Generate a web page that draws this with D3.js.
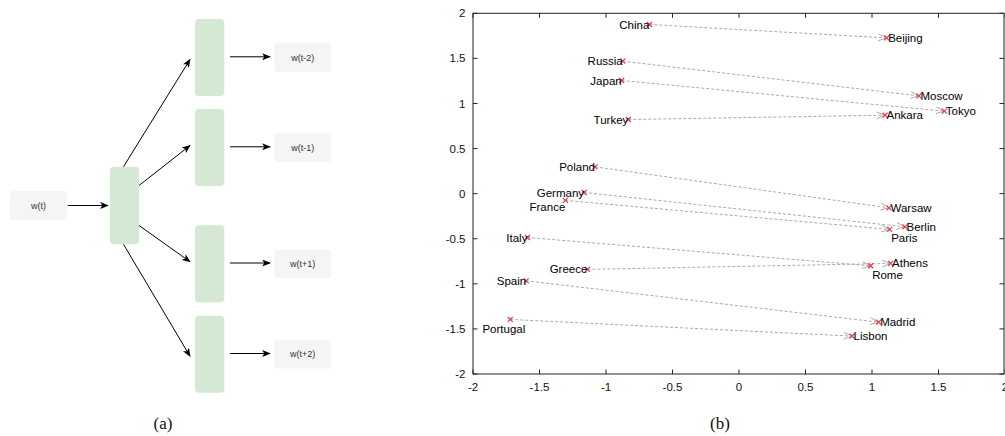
<!DOCTYPE html>
<html>
<head>
<meta charset="utf-8">
<script src="https://cdn.jsdelivr.net/npm/d3@7"></script>
<style>
  body { margin: 0; background: #fff; }
  svg { display: block; }
  .tick-label { font-family: 'Liberation Sans', Arial, sans-serif; font-size: 11.5px; fill: #111; }
  .pt-label { font-family: 'Liberation Sans', Arial, sans-serif; font-size: 11.5px; fill: #000; }
  .node-label { font-family: 'Liberation Sans', Arial, sans-serif; font-size: 9px; fill: #333; }
  .caption { font-family: 'Liberation Serif', 'Times New Roman', serif; font-size: 17px; fill: #111; }
</style>
</head>
<body>
<svg id="chart"></svg>
<script>
// (a) skip-gram diagram
const inputWord = 'w(t)',
contextWords = ['w(t-2)', 'w(t-1)', 'w(t+1)', 'w(t+2)'],
contextOffsets = [-2, -1, 1, 2];

// (b) country -> capital projection
const countries = ['China', 'Russia', 'Japan', 'Turkey', 'Poland', 'Germany', 'France', 'Italy', 'Greece', 'Spain', 'Portugal'],
countryX = [-0.674, -0.874, -0.882, -0.832, -1.083, -1.165, -1.306, -1.591, -1.14, -1.60, -1.72],
countryY = [1.876, 1.469, 1.255, 0.822, 0.297, 0.013, -0.075, -0.486, -0.84, -0.967, -1.395],
capitals = ['Beijing', 'Moscow', 'Tokyo', 'Ankara', 'Warsaw', 'Berlin', 'Paris', 'Rome', 'Athens', 'Madrid', 'Lisbon'],
capitalX = [1.11, 1.353, 1.544, 1.098, 1.128, 1.248, 1.133, 0.99, 1.14, 1.05, 0.85],
capitalY = [1.727, 1.084, 0.915, 0.87, -0.157, -0.368, -0.397, -0.80, -0.774, -1.425, -1.58],
xTicks = [-2, -1.5, -1, -0.5, 0, 0.5, 1, 1.5, 2],
yTicks = [-2, -1.5, -1, -0.5, 0, 0.5, 1, 1.5, 2];

const width = 1005,
height = 436;

// labels that sit below their marker instead of beside it
const labelShift = {France: [0, 6.5], Portugal: [15, 10], Paris: [0, 9], Rome: [0, 9]};

const svg = d3.select('#chart')
.attr('width', width)
.attr('height', height);

svg.append('rect')
.attr('width', width)
.attr('height', height)
.attr('fill', '#fff');

const defs = svg.append('defs');

defs.append('marker')
.attr('id', 'head')
.attr('viewBox', '0 0 10 8')
.attr('refX', 9)
.attr('refY', 4)
.attr('markerWidth', 9)
.attr('markerHeight', 7)
.attr('markerUnits', 'userSpaceOnUse')
.attr('orient', 'auto')
.append('path')
.attr('d', 'M0,0 L10,4 L0,8 L2.5,4 Z')
.attr('fill', '#000');

// ---------- (a) ----------
const diagram = svg.append('g');

const rowY = d3.scaleLinear()
.domain([-2, -1, 0, 1, 2])
.range([57.5, 147.5, 205.5, 263.7, 354.2]);

const hidden = {x: 110, w: 29, y: 166.7, h: 77.6},
outBox = {x: 195, w: 29.3, h: 77},
wordBox = {x: 274.3, w: 56.7, h: 28.5};

diagram.append('rect')
.attr('x', 10).attr('y', rowY(0) - 14.5)
.attr('width', 57).attr('height', 29)
.attr('rx', 3)
.attr('fill', '#f5f5f5');

diagram.append('text')
.attr('class', 'node-label')
.attr('x', 38.5).attr('y', rowY(0))
.attr('dy', '0.35em')
.attr('text-anchor', 'middle')
.text(inputWord);

diagram.append('line')
.attr('x1', 67.7).attr('y1', rowY(0))
.attr('x2', 108).attr('y2', rowY(0))
.attr('stroke', '#000')
.attr('marker-end', 'url(#head)');

diagram.append('rect')
.attr('x', hidden.x).attr('y', hidden.y)
.attr('width', hidden.w).attr('height', hidden.h)
.attr('rx', 4)
.attr('fill', '#d5e8d4');

const rows = diagram.selectAll('.row')
.data(contextWords)
.enter().append('g')
.attr('class', 'row');

rows.append('line')
.attr('x1', (d, i) => Math.abs(contextOffsets[i]) === 2 ? hidden.x + hidden.w / 2 - 1 : hidden.x + hidden.w)
.attr('y1', (d, i) => {
  const o = contextOffsets[i];
  if (Math.abs(o) === 2) return o < 0 ? hidden.y : hidden.y + hidden.h;
  return rowY(0) + o * 20;
})
.attr('x2', 190)
.attr('y2', (d, i) => rowY(contextOffsets[i]) + (Math.abs(contextOffsets[i]) === 2 ? 2 : -2))
.attr('stroke', '#000')
.attr('marker-end', 'url(#head)');

rows.append('rect')
.attr('x', outBox.x)
.attr('y', (d, i) => rowY(contextOffsets[i]) - outBox.h / 2)
.attr('width', outBox.w).attr('height', outBox.h)
.attr('rx', 4)
.attr('fill', '#d5e8d4');

rows.append('line')
.attr('x1', 230).attr('x2', 270)
.attr('y1', (d, i) => rowY(contextOffsets[i]) - 0.7)
.attr('y2', (d, i) => rowY(contextOffsets[i]) - 0.7)
.attr('stroke', '#000')
.attr('marker-end', 'url(#head)');

rows.append('rect')
.attr('x', wordBox.x)
.attr('y', (d, i) => rowY(contextOffsets[i]) - wordBox.h / 2)
.attr('width', wordBox.w).attr('height', wordBox.h)
.attr('rx', 3)
.attr('fill', '#f5f5f5');

rows.append('text')
.attr('class', 'node-label')
.attr('x', wordBox.x + wordBox.w / 2)
.attr('y', (d, i) => rowY(contextOffsets[i]))
.attr('dy', '0.35em')
.attr('text-anchor', 'middle')
.text((d) => d);

svg.append('text')
.attr('class', 'caption')
.attr('x', 163).attr('y', 429)
.attr('text-anchor', 'middle')
.text('(a)');

// ---------- (b) ----------
const x = d3.scaleLinear()
.domain([-2, 2])
.range([473, 1005]);

const y = d3.scaleLinear()
.domain([-2, 2])
.range([374, 13.3]);

const plot = svg.append('g');

plot.append('rect')
.attr('x', x(-2)).attr('y', y(2))
.attr('width', x(2) - x(-2) - 1).attr('height', y(-2) - y(2))
.attr('fill', 'none')
.attr('stroke', '#222');

const tickLen = 4.5;

plot.selectAll('.xtick')
.data(xTicks)
.enter().append('path')
.attr('d', (d) => `M${x(d)},${y(-2)}v${-tickLen}M${x(d)},${y(2)}v${tickLen}`)
.attr('stroke', '#222');

plot.selectAll('.ytick')
.data(yTicks)
.enter().append('path')
.attr('d', (d) => `M${x(-2)},${y(d)}h${tickLen}M${x(2) - 1},${y(d)}h${-tickLen}`)
.attr('stroke', '#222');

plot.selectAll('.xlabel')
.data(xTicks)
.enter().append('text')
.attr('class', 'tick-label')
.attr('x', (d) => x(d))
.attr('y', y(-2) + 13)
.attr('dy', '0.35em')
.attr('text-anchor', 'middle')
.text((d) => d);

plot.selectAll('.ylabel')
.data(yTicks)
.enter().append('text')
.attr('class', 'tick-label')
.attr('x', x(-2) - 7.5)
.attr('y', (d) => y(d))
.attr('dy', '0.35em')
.attr('text-anchor', 'end')
.text((d) => d);

const pairs = countries.map((c, i) => ({
  country: c, cx: x(countryX[i]), cy: y(countryY[i]),
  capital: capitals[i], kx: x(capitalX[i]), ky: y(capitalY[i])
}));

// dashed arrows with open gnuplot-style heads
plot.selectAll('.link')
.data(pairs)
.enter().append('line')
.attr('x1', (d) => d.cx).attr('y1', (d) => d.cy)
.attr('x2', (d) => d.kx).attr('y2', (d) => d.ky)
.attr('stroke', '#aaa')
.attr('stroke-dasharray', '3,2');

plot.selectAll('.arrowhead')
.data(pairs)
.enter().append('path')
.attr('d', (d) => {
  const a = Math.atan2(d.ky - d.cy, d.kx - d.cx), len = 9, spread = 0.38;
  const p1 = [d.kx - len * Math.cos(a - spread), d.ky - len * Math.sin(a - spread)];
  const p2 = [d.kx - len * Math.cos(a + spread), d.ky - len * Math.sin(a + spread)];
  return `M${p1[0]},${p1[1]}L${d.kx},${d.ky}L${p2[0]},${p2[1]}`;
})
.attr('fill', 'none')
.attr('stroke', '#aaa');

const points = pairs.flatMap((d) => [
  {name: d.country, px: d.cx, py: d.cy, side: 'end'},
  {name: d.capital, px: d.kx, py: d.ky, side: 'start'}
]);

plot.selectAll('.mark')
.data(points)
.enter().append('path')
.attr('d', (d) => `M${d.px - 2.5},${d.py - 2.5}L${d.px + 2.5},${d.py + 2.5}M${d.px - 2.5},${d.py + 2.5}L${d.px + 2.5},${d.py - 2.5}`)
.attr('stroke', '#ea3447')
.attr('stroke-width', 1.2);

plot.selectAll('.pt-label')
.data(points)
.enter().append('text')
.attr('class', 'pt-label')
.attr('x', (d) => d.px + (d.side === 'end' ? 0 : 1.5) + (labelShift[d.name] ? labelShift[d.name][0] : 0))
.attr('y', (d) => d.py + (labelShift[d.name] ? labelShift[d.name][1] : 0))
.attr('dy', '0.35em')
.attr('text-anchor', (d) => d.side)
.text((d) => d.name);

svg.append('text')
.attr('class', 'caption')
.attr('x', 720).attr('y', 429)
.attr('text-anchor', 'middle')
.text('(b)');
</script>
</body>
</html>
